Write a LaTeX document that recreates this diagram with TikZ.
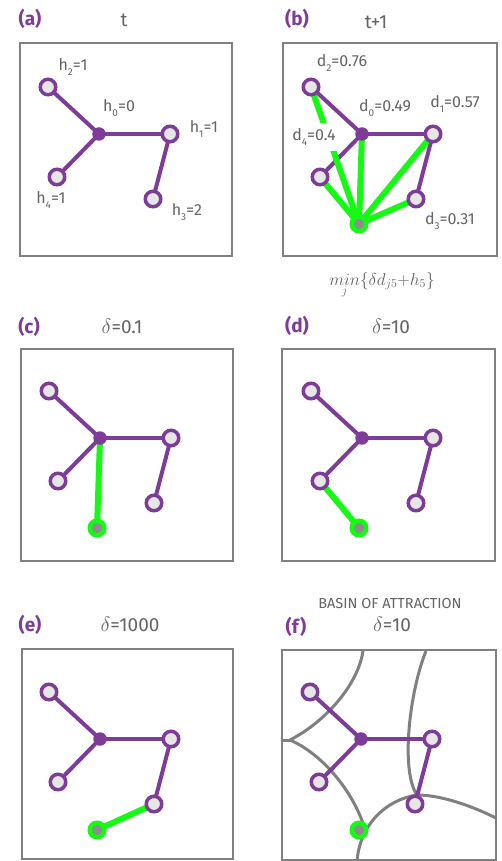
\documentclass[tikz,border=0pt]{standalone}
\usepackage{fontspec}
\setmainfont{Fira Sans}
\definecolor{pur}{RGB}{125,60,152}
\definecolor{nodegray}{RGB}{230,230,230}
\definecolor{ggray}{RGB}{140,140,140}
\definecolor{grn}{RGB}{20,250,20}
\definecolor{boxgray}{RGB}{128,128,128}
\definecolor{txtgray}{RGB}{100,100,100}
\pgfdeclarelayer{bg}
\pgfsetlayers{bg,main}
\newcommand\sbs[1]{\raisebox{-0.35em}{\fontsize{10}{10}\selectfont #1}}
\tikzset{
  ring/.style={circle, draw=pur, line width=3.5pt, fill=nodegray, minimum size=15.5pt, inner sep=0pt},
  hub/.style={circle, fill=pur, minimum size=13.5pt, inner sep=0pt},
  gnode/.style={circle, draw=grn, line width=4.5pt, fill=ggray, minimum size=14.5pt, inner sep=0pt},
  pedge/.style={draw=pur, line width=4pt},
  gedge/.style={draw=grn, line width=6pt},
  panel/.style={draw=boxgray, line width=2pt},
  basin/.style={draw=boxgray, line width=3pt},
  lab/.style={text=txtgray, font=\fontsize{16}{16}\selectfont, inner sep=1pt},
  plabel/.style={text=pur, font=\fontsize{19}{19}\selectfont\bfseries},
  ttl/.style={text=txtgray, font=\fontsize{19}{19}\selectfont},
}
\newcommand\basegraph[1]{%
  \node[hub]  (#1c)  at (99,134) {};
  \node[ring] (#1n1) at (170,134) {};
  \node[ring] (#1n2) at (48,87) {};
  \node[ring] (#1n3) at (153,199) {};
  \node[ring] (#1n4) at (57,177) {};
  \begin{pgfonlayer}{bg}
    \draw[pedge] (#1c.center) -- (#1n1.center);
    \draw[pedge] (#1c.center) -- (#1n2.center);
    \draw[pedge] (#1c.center) -- (#1n4.center);
    \draw[pedge] (#1n1.center) -- (#1n3.center);
  \end{pgfonlayer}
}
\begin{document}
\begin{tikzpicture}[x=1pt,y=-1pt]
\useasboundingbox (0,0) rectangle (501,861);
% panel frames
\begin{pgfonlayer}{bg}
  \fill[white] (0,0) rectangle (501,861);
  \draw[panel] (20,43) rectangle (232,256);
  \draw[panel] (283,43) rectangle (497,256);
  \draw[panel] (21,349) rectangle (233,561);
  \draw[panel] (282,349) rectangle (495,561);
  \draw[panel] (22,649) rectangle (233,859);
  \draw[panel] (282,650) rectangle (496,860);
\end{pgfonlayer}

% ---------- (a)
\node[plabel] (la) at (30,19) {(a)};
\node[ttl] (ta) at (124,20) {t};
\basegraph{a}
\node[lab] (ha2) at (73,67) {h\sbs{2}=1};
\node[lab] (ha0) at (119,108) {h\sbs{0}=0};
\node[lab] (ha1) at (204,129) {h\sbs{1}=1};
\node[lab] (ha4) at (51,200) {h\sbs{4}=1};
\node[lab] (ha3) at (187,212) {h\sbs{3}=2};

% ---------- (b)
\node[plabel] (lb) at (297,19) {(b)};
\node[ttl] (tb) at (376,22) {t+1};
\begin{scope}[shift={(263,0)}]
  \basegraph{b}
  \node[gnode] (bg) at (96,224) {};
  \begin{pgfonlayer}{bg}
    \draw[gedge] (bg.center) -- (bn2.center);
    \draw[gedge] (bg.center) -- (bn4.center);
    \draw[gedge] (bg.center) -- (bc.center);
    \draw[gedge] (bg.center) -- (bn1.center);
    \draw[gedge] (bg.center) -- (bn3.center);
  \end{pgfonlayer}
\end{scope}
\node[lab] (db2) at (342,63) {d\sbs{2}=0.76};
\node[lab] (db0) at (385,108) {d\sbs{0}=0.49};
\node[lab] (db1) at (455,104) {d\sbs{1}=0.57};
\node[lab, fill=white, inner ysep=5pt] (db4) at (314,137) {d\sbs{4}=0.4};
\node[lab] (db3) at (450,221) {d\sbs{3}=0.31};
\node[text=txtgray, font=\fontsize{18}{18}\selectfont] (frm) at (382,285)
  {$\mathop{min}\limits_{j}\{\delta d_{j5}{+}h_5\}$};

% ---------- (c)
\node[plabel] (lc) at (29,327) {(c)};
\node[ttl] (tc) at (122,326) {{\fontsize{21}{21}\selectfont$\delta$}=0.1};
\begin{scope}[shift={(1,304)}]
  \basegraph{c}
  \node[gnode] (cg) at (96,224) {};
  \begin{pgfonlayer}{bg}
    \draw[gedge] (cg.center) -- (cc.center);
  \end{pgfonlayer}
\end{scope}

% ---------- (d)
\node[plabel] (ld) at (297,326) {(d)};
\node[ttl] (td) at (391,326) {{\fontsize{21}{21}\selectfont$\delta$}=10};
\begin{scope}[shift={(263,304)}]
  \basegraph{d}
  \node[gnode] (dg) at (96,224) {};
  \begin{pgfonlayer}{bg}
    \draw[gedge] (dg.center) -- (dn4.center);
  \end{pgfonlayer}
\end{scope}

% ---------- (e)
\node[plabel] (le) at (30,625) {(e)};
\node[ttl] (te) at (130,624) {{\fontsize{21}{21}\selectfont$\delta$}=1000};
\begin{scope}[shift={(1,605)}]
  \basegraph{e}
  \node[gnode] (eg) at (96,225) {};
  \begin{pgfonlayer}{bg}
    \draw[gedge] (eg.center) -- (en3.center);
  \end{pgfonlayer}
\end{scope}

% ---------- (f)
\node[text=txtgray, font=\fontsize{14.5}{14.5}\selectfont] (basin) at (390,603) {BASIN OF ATTRACTION};
\node[plabel] (lf) at (296,627) {(f)};
\node[ttl] (tf) at (392,624) {{\fontsize{21}{21}\selectfont$\delta$}=10};
\begin{pgfonlayer}{bg}
  \coordinate (j1) at (290,740);
  \coordinate (j2) at (417,795);
  \draw[basin] (282,740) -- (j1);
  \draw[basin] (363,651) .. controls (358,685) and (325,722) .. (j1);
  \draw[basin] (j1) .. controls (318,752) and (350,785) .. (364,826);
  \draw[basin] (426,651) .. controls (410,690) and (400,770) .. (j2);
  \draw[basin] (j2) .. controls (440,795) and (470,805) .. (496,818);
  \draw[basin] (j2) .. controls (385,800) and (360,825) .. (357,861);
\end{pgfonlayer}
\begin{scope}[shift={(262,605)}]
  \basegraph{f}
  \node[gnode] (fg) at (97,225) {};
\end{scope}
\end{tikzpicture}
\end{document}
